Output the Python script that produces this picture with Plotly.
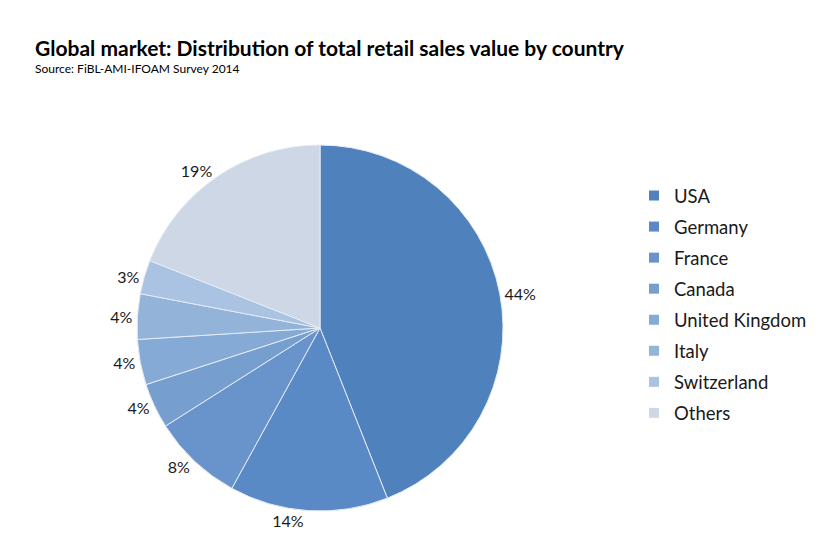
import plotly.graph_objects as go

W, H = 830, 553
OFF = 8  # the page body adds an 8px margin around the figure

countries = ["USA", "Germany", "France", "Canada", "United Kingdom",
             "Italy", "Switzerland", "Others"]
shares = [44, 14, 8, 4, 4, 4, 3, 19]
colors = ["#4f81bd", "#5a8ac6", "#6894cb", "#769fd0", "#86aad6",
          "#93b3d8", "#aac3e2", "#cdd7e6"]

FONT = "Lato, 'Open Sans', sans-serif"


def px(x):
    return (x - OFF) / W


def py(y):
    return 1 - (y - OFF) / H


# pie centre ~ (320, 328), radius ~183 px in the reference
cx, cy, r = 320, 328, 183

fig = go.Figure(go.Pie(
    labels=countries,
    values=shares,
    sort=False,
    direction="clockwise",
    rotation=0,
    marker=dict(colors=colors, line=dict(color="#e3ebf6", width=1)),
    texttemplate="%{value}%",
    textposition="outside",
    textfont=dict(family=FONT, size=16, color="#1a1a1a"),
    domain=dict(x=[px(cx - r), px(cx + r)], y=[py(cy + r), py(cy - r)]),
    hoverinfo="label+percent",
    showlegend=False,
))

# legend entries as empty marker traces so the row spacing can be set
for name, col in zip(countries, colors):
    fig.add_trace(go.Scatter(x=[None], y=[None], mode="markers", name=name,
                             legendgroup=name,
                             marker=dict(symbol="square", size=10, color=col)))

fig.add_annotation(text="<b>Global market: Distribution of total retail sales value by country</b>",
                   x=px(33), y=py(47), xref="paper", yref="paper",
                   xanchor="left", yanchor="middle", showarrow=False,
                   font=dict(family=FONT, size=21, color="#000000"))
fig.add_annotation(text="Source: FiBL-AMI-IFOAM Survey 2014",
                   x=px(33), y=py(68), xref="paper", yref="paper",
                   xanchor="left", yanchor="middle", showarrow=False,
                   font=dict(family=FONT, size=12, color="#000000"))

fig.update_layout(
    width=W, height=H,
    margin=dict(l=0, r=0, t=0, b=0),
    paper_bgcolor="white", plot_bgcolor="white",
    xaxis=dict(visible=False), yaxis=dict(visible=False),
    showlegend=True,
    legend=dict(x=px(634), y=py(177), xanchor="left", yanchor="top",
                font=dict(family=FONT, size=18.5, color="#1a1a1a"),
                itemsizing="trace", tracegroupgap=4,
                bgcolor="rgba(0,0,0,0)"),
)

fig.write_html("out.html")
